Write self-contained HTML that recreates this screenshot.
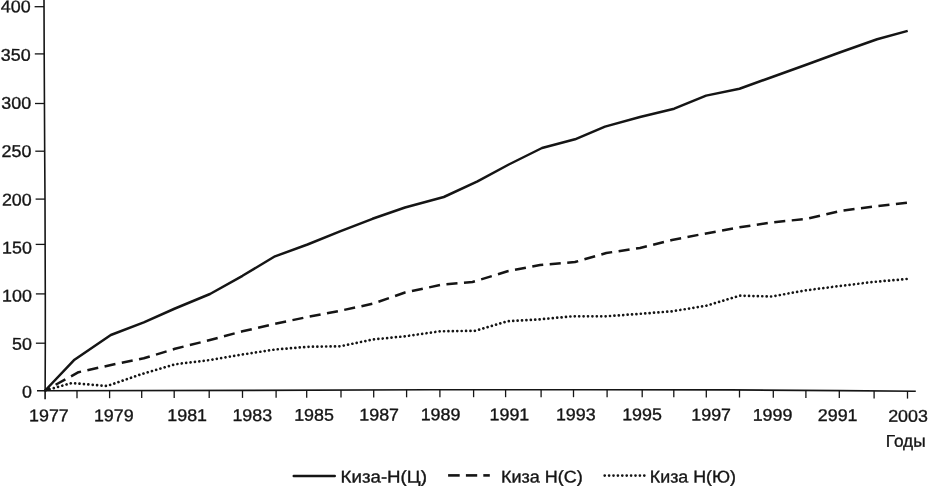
<!DOCTYPE html>
<html lang="ru">
<head>
<meta charset="utf-8">
<title>Chart</title>
<style>
html,body{margin:0;padding:0;background:#fff;}
body{width:928px;height:486px;overflow:hidden;font-family:"Liberation Sans",sans-serif;}
svg{display:block;filter:blur(0.35px);}
text{font-family:"Liberation Sans",sans-serif;font-size:17.0px;fill:#151515;stroke:#151515;stroke-width:0.35px;}
</style>
</head>
<body>
<svg width="928" height="486" viewBox="0 0 928 486">
<rect x="0" y="0" width="928" height="486" fill="#ffffff"/>
<g stroke="#151515" stroke-width="1.6" fill="none" stroke-linecap="butt">
<polyline points="44.0,0.00 44.2,55.00 44.7,155.00 45.0,200.00 45.3,300.00 45.3,345.00 45.1,399.20"/>
<polyline points="37.0,390.80 45.0,390.80 250.0,390.40 430.0,389.75 590.0,389.70 730.0,389.90 840.0,390.60 915.8,391.20"/>
</g>
<g stroke="#151515" stroke-width="1.3" fill="none">
<line x1="77.0" y1="390.7" x2="77.0" y2="398.2"/>
<line x1="109.6" y1="390.7" x2="109.6" y2="398.2"/>
<line x1="141.7" y1="390.6" x2="141.7" y2="398.1"/>
<line x1="174.2" y1="390.5" x2="174.2" y2="398.0"/>
<line x1="209.2" y1="390.5" x2="209.2" y2="398.0"/>
<line x1="242.5" y1="390.4" x2="242.5" y2="397.9"/>
<line x1="276.1" y1="390.3" x2="276.1" y2="397.8"/>
<line x1="306.7" y1="390.2" x2="306.7" y2="397.7"/>
<line x1="341.0" y1="390.1" x2="341.0" y2="397.6"/>
<line x1="373.7" y1="390.0" x2="373.7" y2="397.5"/>
<line x1="406.6" y1="389.8" x2="406.6" y2="397.3"/>
<line x1="439.9" y1="389.7" x2="439.9" y2="397.2"/>
<line x1="473.6" y1="389.7" x2="473.6" y2="397.2"/>
<line x1="505.6" y1="389.7" x2="505.6" y2="397.2"/>
<line x1="541.1" y1="389.7" x2="541.1" y2="397.2"/>
<line x1="573.5" y1="389.7" x2="573.5" y2="397.2"/>
<line x1="607.1" y1="389.7" x2="607.1" y2="397.2"/>
<line x1="642.2" y1="389.8" x2="642.2" y2="397.3"/>
<line x1="673.8" y1="389.8" x2="673.8" y2="397.3"/>
<line x1="706.3" y1="389.9" x2="706.3" y2="397.4"/>
<line x1="739.5" y1="390.0" x2="739.5" y2="397.5"/>
<line x1="773.3" y1="390.2" x2="773.3" y2="397.7"/>
<line x1="805.9" y1="390.4" x2="805.9" y2="397.9"/>
<line x1="839.3" y1="390.6" x2="839.3" y2="398.1"/>
<line x1="874.1" y1="390.9" x2="874.1" y2="398.4"/>
<line x1="907.5" y1="391.1" x2="907.5" y2="398.6"/>
<line x1="34.6" y1="6.7" x2="44.0" y2="6.7"/>
<line x1="34.8" y1="53.9" x2="44.2" y2="53.9"/>
<line x1="35.0" y1="103.5" x2="44.4" y2="103.5"/>
<line x1="35.3" y1="151.2" x2="44.7" y2="151.2"/>
<line x1="35.6" y1="199.1" x2="45.0" y2="199.1"/>
<line x1="35.7" y1="244.4" x2="45.1" y2="244.4"/>
<line x1="35.9" y1="293.9" x2="45.3" y2="293.9"/>
<line x1="35.9" y1="343.2" x2="45.3" y2="343.2"/>
</g>
<polyline points="45.2,390.50 74.5,359.70 110.8,335.00 143.8,322.30 175.0,308.50 210.0,294.00 242.5,275.80 275.0,256.30 307.5,244.50 340.0,231.30 372.5,218.80 405.0,207.50 443.8,197.00 477.5,181.30 508.8,164.50 542.0,148.00 575.0,139.30 605.0,126.60 640.0,117.00 674.2,108.70 706.1,95.60 739.5,88.70 772.9,76.70 806.2,64.80 839.6,52.50 877.1,39.20 907.7,30.90" fill="none" stroke="#151515" stroke-width="2.5" stroke-linejoin="round"/>
<polyline points="45.2,390.50 78.5,372.20 111.0,365.00 143.8,358.30 175.0,348.80 210.0,340.00 242.5,331.30 275.0,323.80 307.5,317.00 340.0,310.80 372.5,303.80 405.0,292.50 442.5,284.50 472.5,282.00 507.5,271.30 540.0,265.00 575.0,262.00 606.3,253.00 640.0,248.00 672.0,240.00 706.1,233.40 739.5,227.30 772.9,222.30 806.2,218.90 839.6,211.10 873.0,206.60 907.8,202.60" fill="none" stroke="#151515" stroke-width="2.5" stroke-dasharray="11.1 6.5" stroke-dashoffset="-11.9" stroke-linejoin="round"/>
<polyline points="45.2,390.50 71.8,383.00 107.0,386.00 142.5,373.80 175.0,364.30 210.0,360.00 242.5,354.50 275.0,349.50 307.5,346.80 340.0,346.30 373.0,339.50 405.0,336.30 440.0,331.30 475.0,330.80 507.5,321.30 540.0,319.30 572.5,316.30 606.0,316.30 640.0,313.80 672.0,311.30 706.1,305.80 739.5,295.70 771.5,296.50 806.2,290.30 839.6,286.00 873.0,282.00 906.6,279.00" fill="none" stroke="#151515" stroke-width="2.7" stroke-dasharray="0.01 4.4" stroke-dashoffset="-0.1" stroke-linecap="round" stroke-linejoin="round"/>
<text transform="translate(29.1,421.3) scale(1.05,1) rotate(0.03)" text-anchor="start">1977</text>
<text transform="translate(93.9,421.2) scale(1.05,1) rotate(0.03)" text-anchor="start">1979</text>
<text transform="translate(167.3,421.1) scale(1.05,1) rotate(0.03)" text-anchor="start">1981</text>
<text transform="translate(232.4,420.9) scale(1.05,1) rotate(0.03)" text-anchor="start">1983</text>
<text transform="translate(294.2,420.7) scale(1.05,1) rotate(0.03)" text-anchor="start">1985</text>
<text transform="translate(359.3,420.5) scale(1.05,1) rotate(0.03)" text-anchor="start">1987</text>
<text transform="translate(420.7,420.3) scale(1.05,1) rotate(0.03)" text-anchor="start">1989</text>
<text transform="translate(489.6,420.3) scale(1.05,1) rotate(0.03)" text-anchor="start">1991</text>
<text transform="translate(555.9,420.3) scale(1.05,1) rotate(0.03)" text-anchor="start">1993</text>
<text transform="translate(622.2,420.3) scale(1.05,1) rotate(0.03)" text-anchor="start">1995</text>
<text transform="translate(691.3,420.4) scale(1.05,1) rotate(0.03)" text-anchor="start">1997</text>
<text transform="translate(752.7,420.7) scale(1.05,1) rotate(0.03)" text-anchor="start">1999</text>
<text transform="translate(817.8,421.1) scale(1.05,1) rotate(0.03)" text-anchor="start">2991</text>
<text transform="translate(888.2,421.7) scale(1.05,1) rotate(0.03)" text-anchor="start">2003</text>
<text transform="translate(30.6,12.2) scale(1.05,1) rotate(0.03)" text-anchor="end">400</text>
<text transform="translate(30.6,60.8) scale(1.05,1) rotate(0.03)" text-anchor="end">350</text>
<text transform="translate(31.1,108.8) scale(1.05,1) rotate(0.03)" text-anchor="end">300</text>
<text transform="translate(31.4,157.1) scale(1.05,1) rotate(0.03)" text-anchor="end">250</text>
<text transform="translate(31.7,205.4) scale(1.05,1) rotate(0.03)" text-anchor="end">200</text>
<text transform="translate(31.9,253.4) scale(1.05,1) rotate(0.03)" text-anchor="end">150</text>
<text transform="translate(31.9,301.6) scale(1.05,1) rotate(0.03)" text-anchor="end">100</text>
<text transform="translate(31.9,349.7) scale(1.05,1) rotate(0.03)" text-anchor="end">50</text>
<text transform="translate(32.0,397.5) scale(1.05,1) rotate(0.03)" text-anchor="end">0</text>
<text transform="translate(885.7,446.7) scale(1.017,1) rotate(0.03)" text-anchor="start">Годы</text>
<line x1="293.7" y1="476.0" x2="334.8" y2="476.0" stroke="#151515" stroke-width="2.4" stroke-linecap="round"/>
<text transform="translate(340.6,482.5) scale(1.1,1) rotate(0.03)" text-anchor="start">Киза-Н(Ц)</text>
<g stroke="#151515" stroke-width="2.6"><line x1="448.1" y1="475.4" x2="459.7" y2="475.4"/><line x1="465.9" y1="475.4" x2="477.2" y2="475.4"/><line x1="483.3" y1="475.4" x2="489.8" y2="475.4"/></g>
<text transform="translate(501.0,482.5) scale(1.06,1) rotate(0.03)" text-anchor="start">Киза Н(С)</text>
<line x1="604.7" y1="475.6" x2="645.0" y2="475.6" stroke="#151515" stroke-width="2.7" stroke-dasharray="0.01 4.39" stroke-linecap="round"/>
<text transform="translate(649.8,482.5) scale(1.05,1) rotate(0.03)" text-anchor="start">Киза Н(Ю)</text>
</svg>
</body>
</html>
